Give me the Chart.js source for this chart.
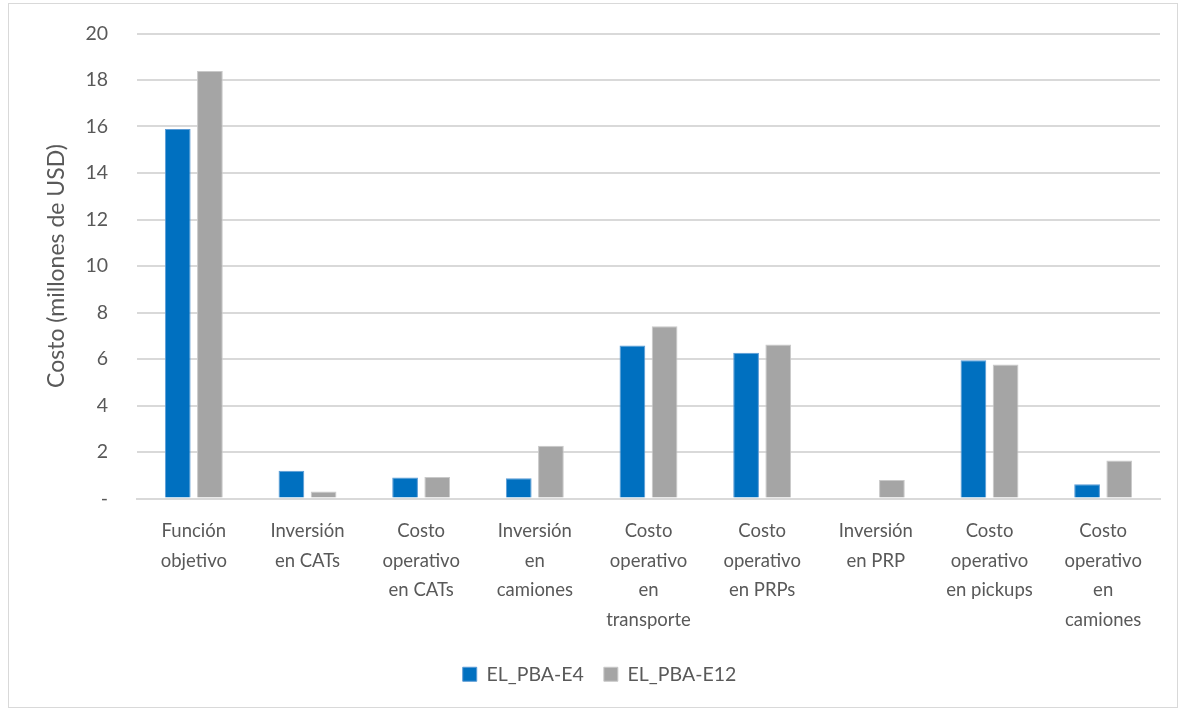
<!DOCTYPE html>
<html>
<head>
<meta charset="utf-8">
<script src="https://cdn.jsdelivr.net/npm/chart.js@4"></script>
<style>
  body { margin: 0; background: #fff; }
  #box { position: absolute; left: 8px; top: 3px; width: 1168px; height: 703px; border: 1px solid #d9d9d9; }
</style>
</head>
<body>
<div id="box"><canvas id="chart" width="1168" height="703"></canvas></div>
<script>
var categories = [
  ['Función', 'objetivo'],
  ['Inversión', 'en CATs'],
  ['Costo', 'operativo', 'en CATs'],
  ['Inversión', 'en', 'camiones'],
  ['Costo', 'operativo', 'en', 'transporte'],
  ['Costo', 'operativo', 'en PRPs'],
  ['Inversión', 'en PRP'],
  ['Costo', 'operativo', 'en pickups'],
  ['Costo', 'operativo', 'en', 'camiones']
];
var seriesNames = ['EL_PBA-E4', 'EL_PBA-E12'];
var e4Values = [15.89, 1.19, 0.90, 0.87, 6.58, 6.27, 0, 5.95, 0.61];
var e12Values = [18.39, 0.30, 0.93, 2.27, 7.41, 6.62, 0.80, 5.76, 1.63];

Chart.defaults.font.family = 'Lato';
Chart.defaults.color = '#595959';

var chart = new Chart('chart', {
  type: 'bar',
  data: {
    labels: categories,
    datasets: [
      { label: seriesNames[0], data: e4Values, backgroundColor: '#0070c0', borderColor: '#5b9bd5', borderWidth: 1 },
      { label: seriesNames[1], data: e12Values, backgroundColor: '#a5a5a5', borderColor: '#c9c9c9', borderWidth: 1 }
    ]
  },
  options: {
    responsive: false,
    animation: false,
    datasets: { bar: { categoryPercentage: 0.566, barPercentage: 0.8 } },
    layout: { padding: { left: 30, right: 17, top: 29.5, bottom: 13 } },
    scales: {
      x: {
        grid: { display: false },
        border: { color: '#d9d9d9', width: 2 },
        ticks: { font: { size: 18.5, lineHeight: 1.6 }, padding: 10, maxRotation: 0, autoSkip: false },
        afterFit: function(s) { s.height = 146; }
      },
      y: {
        min: 0, max: 20,
        ticks: {
          stepSize: 2, padding: 29, font: { size: 19.5 },
          callback: function(v) { return v === 0 ? '-' : v; }
        },
        grid: { color: '#d9d9d9', lineWidth: 2, drawTicks: false },
        border: { display: false },
        title: { display: true, text: 'Costo (millones de USD)', font: { size: 23 }, padding: { bottom: 9 } },
        afterFit: function(s) { s.width = 98; s.paddingTop = 0; s.paddingBottom = 0; }
      }
    },
    plugins: {
      legend: {
        position: 'bottom',
        labels: { boxWidth: 14, boxHeight: 14, font: { size: 19.5 }, padding: 20 }
      },
      tooltip: { enabled: false }
    }
  }
});
</script>
</body>
</html>
